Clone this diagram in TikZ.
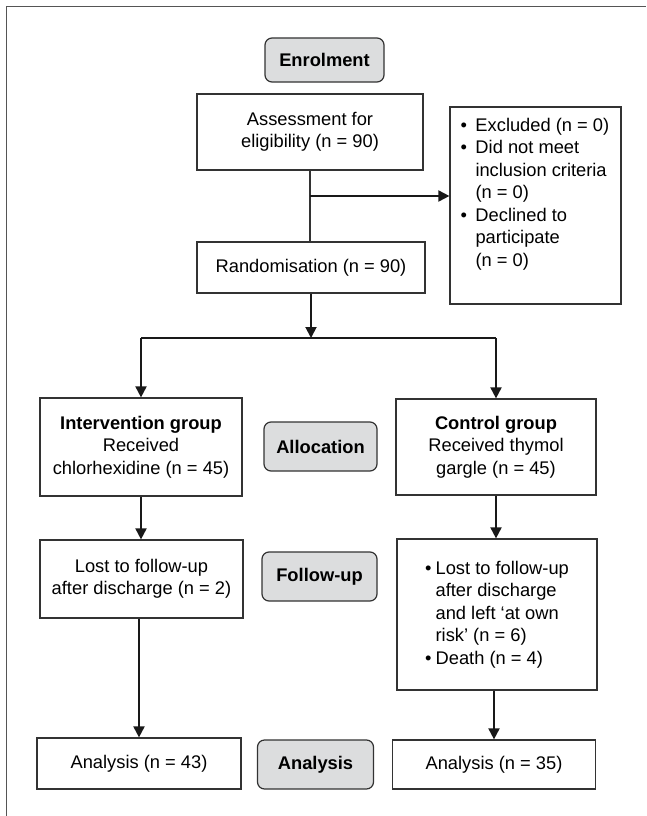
\documentclass[tikz,border=0pt]{standalone}
\usepackage{fontspec}
\setmainfont{Liberation Sans}
\usetikzlibrary{arrows.meta,positioning}
\definecolor{edge}{HTML}{333333}
\definecolor{labfill}{HTML}{DCDDDE}
\definecolor{frame}{HTML}{555555}
\newcommand{\bul}{\makebox[15pt][l]{•}}
\newcommand{\bulr}{\makebox[10.5pt][l]{•}}
\begin{document}
\begin{tikzpicture}[x=1pt,y=-1pt,
  font=\fontsize{18.3}{22.5}\selectfont,
  box/.style={draw=edge, line width=1.2pt, fill=white, inner sep=0pt, align=center},
  stagebox/.style={draw=edge, line width=1.2pt, fill=labfill, rounded corners=7pt, inner sep=0pt, font=\fontsize{18.3}{22.5}\selectfont\bfseries},
  flow/.style={draw=black!90, line width=1.9pt, -{Triangle[length=11pt,width=11pt]}},
  plain/.style={draw=black!90, line width=1.9pt},
  thin/.style={draw=edge, line width=1.1pt}
]
\useasboundingbox (0,0) rectangle (646,816);
% outer frame
\draw[frame, line width=1.5pt] (6.5,816) -- (6.5,6.5) -- (646,6.5);

% stage labels
\node[stagebox, minimum width=119pt, minimum height=44pt] (enrol) at (324.5,60) {Enrolment};
\node[stagebox, minimum width=113pt, minimum height=49pt] (alloc) at (320.5,446.5) {Allocation};
\node[stagebox, minimum width=115pt, minimum height=49pt] (follow) at (319.5,576.5) {Follow-up};
\node[stagebox, minimum width=116pt, minimum height=49pt] (anac) at (315.5,764.5) {Analysis};

% boxes
\node[box, minimum width=226pt, minimum height=76pt] (assess) at (310,132) {Assessment for\\eligibility (n = 90)};
\node[box, minimum width=171pt, minimum height=197pt] (excl) at (535.5,205.5)
  {\parbox[c][197pt][t]{150pt}{\raggedright\vspace*{11pt}%
   \bul Excluded (n = 0)\\
   \bul Did not meet\\
   \hspace*{15pt}inclusion criteria\\
   \hspace*{15pt}(n = 0)\\
   \bul Declined to\\
   \hspace*{15pt}participate\\
   \hspace*{15pt}(n = 0)}};
\node[box, minimum width=228pt, minimum height=51pt] (rand) at (311,267.5) {Randomisation (n = 90)};
\node[box, minimum width=202pt, minimum height=98pt] (interv) at (141,447) {\textbf{Intervention group}\\Received\\chlorhexidine (n = 45)};
\node[box, minimum width=200pt, minimum height=96pt] (ctrl) at (496,447) {\textbf{Control group}\\Received thymol\\gargle (n = 45)};
\node[box, minimum width=203pt, minimum height=78pt] (lostl) at (141.5,579) {Lost to follow-up\\after discharge (n = 2)};
\node[box, minimum width=200pt, minimum height=151pt, align=left] (lostr) at (497,614.5)
  {\bulr Lost to follow-up\\
   \hspace*{10.5pt}after discharge\\
   \hspace*{10.5pt}and left ‘at own\\
   \hspace*{10.5pt}risk’ (n = 6)\\
   \bulr Death (n = 4)};
\node[box, minimum width=204pt, minimum height=51pt] (anal) at (139,763.5) {Analysis (n = 43)};
\node[box, minimum width=203pt, minimum height=49pt] (anar) at (494,764.5) {Analysis (n = 35)};

% connectors
\coordinate (j1) at (310,196);
\coordinate (split) at (311,338);
\draw[thin] (assess.south) -- (assess.south |- rand.north);
\draw[flow] (j1) -- (excl.west |- j1);
\draw[flow] (rand.south) -- (split);
\draw[plain] (interv.north |- split) -- (ctrl.north |- split);
\draw[flow] (interv.north |- split) -- (interv.north);
\draw[flow] (ctrl.north |- split) -- (ctrl.north);
\draw[flow] (interv.south) -- (interv.south |- lostl.north);
\draw[flow] (ctrl.south) -- (ctrl.south |- lostr.north);
\draw[flow] (anal.north |- lostl.south) -- (anal.north);
\draw[flow] (anar.north |- lostr.south) -- (anar.north);
\end{tikzpicture}
\end{document}
